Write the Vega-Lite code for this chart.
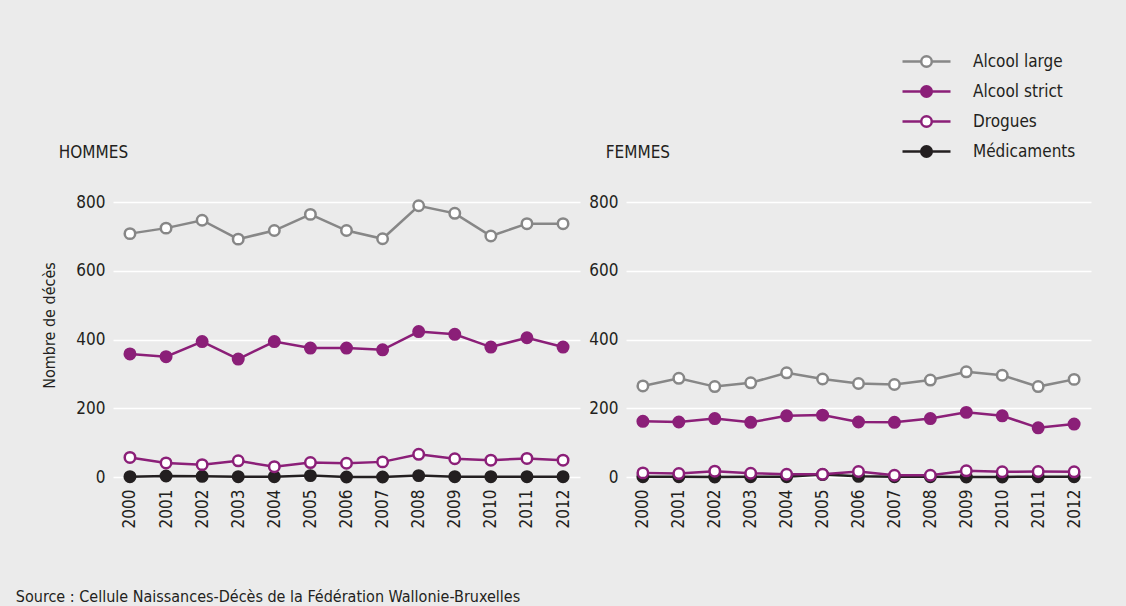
{
  "$schema": "https://vega.github.io/schema/vega-lite/v6.json",
  "background": "#EBEBEB",
  "padding": {"left": 15, "top": 48, "right": 36, "bottom": 2},
  "config": {
    "font": "DejaVu Sans Condensed, Roboto, sans-serif",
    "view": {"stroke": null},
    "axis": {"labelFont": "DejaVu Sans Condensed, Roboto, sans-serif", "labelFontSize": 17, "labelColor": "#231F20", "titleFont": "DejaVu Sans Condensed, Roboto, sans-serif", "titleColor": "#231F20"},
    "legend": {"labelFont": "DejaVu Sans Condensed, Roboto, sans-serif"}
  },
  "title": {"text": "Source : Cellule Naissances-Décès de la Fédération Wallonie-Bruxelles", "orient": "bottom", "anchor": "start", "fontSize": 16, "fontWeight": "normal", "color": "#231F20", "font": "DejaVu Sans Condensed, Roboto, sans-serif", "offset": 61, "dx": -26},
  "data": {"values": [
    {"sexe":"HOMMES","annee":"2000","serie":"Médicaments","n":1},
    {"sexe":"HOMMES","annee":"2001","serie":"Médicaments","n":3},
    {"sexe":"HOMMES","annee":"2002","serie":"Médicaments","n":2},
    {"sexe":"HOMMES","annee":"2003","serie":"Médicaments","n":1},
    {"sexe":"HOMMES","annee":"2004","serie":"Médicaments","n":1},
    {"sexe":"HOMMES","annee":"2005","serie":"Médicaments","n":4},
    {"sexe":"HOMMES","annee":"2006","serie":"Médicaments","n":0},
    {"sexe":"HOMMES","annee":"2007","serie":"Médicaments","n":0},
    {"sexe":"HOMMES","annee":"2008","serie":"Médicaments","n":4},
    {"sexe":"HOMMES","annee":"2009","serie":"Médicaments","n":1},
    {"sexe":"HOMMES","annee":"2010","serie":"Médicaments","n":1},
    {"sexe":"HOMMES","annee":"2011","serie":"Médicaments","n":1},
    {"sexe":"HOMMES","annee":"2012","serie":"Médicaments","n":1},
    {"sexe":"HOMMES","annee":"2000","serie":"Alcool large","n":708},
    {"sexe":"HOMMES","annee":"2001","serie":"Alcool large","n":724},
    {"sexe":"HOMMES","annee":"2002","serie":"Alcool large","n":747},
    {"sexe":"HOMMES","annee":"2003","serie":"Alcool large","n":692},
    {"sexe":"HOMMES","annee":"2004","serie":"Alcool large","n":717},
    {"sexe":"HOMMES","annee":"2005","serie":"Alcool large","n":764},
    {"sexe":"HOMMES","annee":"2006","serie":"Alcool large","n":717},
    {"sexe":"HOMMES","annee":"2007","serie":"Alcool large","n":693},
    {"sexe":"HOMMES","annee":"2008","serie":"Alcool large","n":789},
    {"sexe":"HOMMES","annee":"2009","serie":"Alcool large","n":767},
    {"sexe":"HOMMES","annee":"2010","serie":"Alcool large","n":701},
    {"sexe":"HOMMES","annee":"2011","serie":"Alcool large","n":737},
    {"sexe":"HOMMES","annee":"2012","serie":"Alcool large","n":737},
    {"sexe":"HOMMES","annee":"2000","serie":"Alcool strict","n":358},
    {"sexe":"HOMMES","annee":"2001","serie":"Alcool strict","n":350},
    {"sexe":"HOMMES","annee":"2002","serie":"Alcool strict","n":394},
    {"sexe":"HOMMES","annee":"2003","serie":"Alcool strict","n":343},
    {"sexe":"HOMMES","annee":"2004","serie":"Alcool strict","n":394},
    {"sexe":"HOMMES","annee":"2005","serie":"Alcool strict","n":375},
    {"sexe":"HOMMES","annee":"2006","serie":"Alcool strict","n":375},
    {"sexe":"HOMMES","annee":"2007","serie":"Alcool strict","n":370},
    {"sexe":"HOMMES","annee":"2008","serie":"Alcool strict","n":423},
    {"sexe":"HOMMES","annee":"2009","serie":"Alcool strict","n":415},
    {"sexe":"HOMMES","annee":"2010","serie":"Alcool strict","n":378},
    {"sexe":"HOMMES","annee":"2011","serie":"Alcool strict","n":405},
    {"sexe":"HOMMES","annee":"2012","serie":"Alcool strict","n":378},
    {"sexe":"HOMMES","annee":"2000","serie":"Drogues","n":57},
    {"sexe":"HOMMES","annee":"2001","serie":"Drogues","n":41},
    {"sexe":"HOMMES","annee":"2002","serie":"Drogues","n":36},
    {"sexe":"HOMMES","annee":"2003","serie":"Drogues","n":47},
    {"sexe":"HOMMES","annee":"2004","serie":"Drogues","n":30},
    {"sexe":"HOMMES","annee":"2005","serie":"Drogues","n":42},
    {"sexe":"HOMMES","annee":"2006","serie":"Drogues","n":40},
    {"sexe":"HOMMES","annee":"2007","serie":"Drogues","n":44},
    {"sexe":"HOMMES","annee":"2008","serie":"Drogues","n":66},
    {"sexe":"HOMMES","annee":"2009","serie":"Drogues","n":53},
    {"sexe":"HOMMES","annee":"2010","serie":"Drogues","n":49},
    {"sexe":"HOMMES","annee":"2011","serie":"Drogues","n":54},
    {"sexe":"HOMMES","annee":"2012","serie":"Drogues","n":49},
    {"sexe":"FEMMES","annee":"2000","serie":"Médicaments","n":1},
    {"sexe":"FEMMES","annee":"2001","serie":"Médicaments","n":1},
    {"sexe":"FEMMES","annee":"2002","serie":"Médicaments","n":0},
    {"sexe":"FEMMES","annee":"2003","serie":"Médicaments","n":1},
    {"sexe":"FEMMES","annee":"2004","serie":"Médicaments","n":1},
    {"sexe":"FEMMES","annee":"2005","serie":"Médicaments","n":7},
    {"sexe":"FEMMES","annee":"2006","serie":"Médicaments","n":2},
    {"sexe":"FEMMES","annee":"2007","serie":"Médicaments","n":1},
    {"sexe":"FEMMES","annee":"2008","serie":"Médicaments","n":1},
    {"sexe":"FEMMES","annee":"2009","serie":"Médicaments","n":0},
    {"sexe":"FEMMES","annee":"2010","serie":"Médicaments","n":0},
    {"sexe":"FEMMES","annee":"2011","serie":"Médicaments","n":1},
    {"sexe":"FEMMES","annee":"2012","serie":"Médicaments","n":1},
    {"sexe":"FEMMES","annee":"2000","serie":"Alcool large","n":265},
    {"sexe":"FEMMES","annee":"2001","serie":"Alcool large","n":287},
    {"sexe":"FEMMES","annee":"2002","serie":"Alcool large","n":263},
    {"sexe":"FEMMES","annee":"2003","serie":"Alcool large","n":274},
    {"sexe":"FEMMES","annee":"2004","serie":"Alcool large","n":303},
    {"sexe":"FEMMES","annee":"2005","serie":"Alcool large","n":285},
    {"sexe":"FEMMES","annee":"2006","serie":"Alcool large","n":272},
    {"sexe":"FEMMES","annee":"2007","serie":"Alcool large","n":269},
    {"sexe":"FEMMES","annee":"2008","serie":"Alcool large","n":282},
    {"sexe":"FEMMES","annee":"2009","serie":"Alcool large","n":306},
    {"sexe":"FEMMES","annee":"2010","serie":"Alcool large","n":296},
    {"sexe":"FEMMES","annee":"2011","serie":"Alcool large","n":263},
    {"sexe":"FEMMES","annee":"2012","serie":"Alcool large","n":284},
    {"sexe":"FEMMES","annee":"2000","serie":"Alcool strict","n":162},
    {"sexe":"FEMMES","annee":"2001","serie":"Alcool strict","n":160},
    {"sexe":"FEMMES","annee":"2002","serie":"Alcool strict","n":170},
    {"sexe":"FEMMES","annee":"2003","serie":"Alcool strict","n":159},
    {"sexe":"FEMMES","annee":"2004","serie":"Alcool strict","n":178},
    {"sexe":"FEMMES","annee":"2005","serie":"Alcool strict","n":180},
    {"sexe":"FEMMES","annee":"2006","serie":"Alcool strict","n":160},
    {"sexe":"FEMMES","annee":"2007","serie":"Alcool strict","n":159},
    {"sexe":"FEMMES","annee":"2008","serie":"Alcool strict","n":170},
    {"sexe":"FEMMES","annee":"2009","serie":"Alcool strict","n":188},
    {"sexe":"FEMMES","annee":"2010","serie":"Alcool strict","n":178},
    {"sexe":"FEMMES","annee":"2011","serie":"Alcool strict","n":143},
    {"sexe":"FEMMES","annee":"2012","serie":"Alcool strict","n":154},
    {"sexe":"FEMMES","annee":"2000","serie":"Drogues","n":12},
    {"sexe":"FEMMES","annee":"2001","serie":"Drogues","n":10},
    {"sexe":"FEMMES","annee":"2002","serie":"Drogues","n":17},
    {"sexe":"FEMMES","annee":"2003","serie":"Drogues","n":11},
    {"sexe":"FEMMES","annee":"2004","serie":"Drogues","n":8},
    {"sexe":"FEMMES","annee":"2005","serie":"Drogues","n":8},
    {"sexe":"FEMMES","annee":"2006","serie":"Drogues","n":16},
    {"sexe":"FEMMES","annee":"2007","serie":"Drogues","n":5},
    {"sexe":"FEMMES","annee":"2008","serie":"Drogues","n":5},
    {"sexe":"FEMMES","annee":"2009","serie":"Drogues","n":18},
    {"sexe":"FEMMES","annee":"2010","serie":"Drogues","n":15},
    {"sexe":"FEMMES","annee":"2011","serie":"Drogues","n":16},
    {"sexe":"FEMMES","annee":"2012","serie":"Drogues","n":15}
  ]},
  "hconcat": [
    {
      "width": 467, "height": 275,
      "title": {"text": "HOMMES", "anchor": "start", "dx": 17, "offset": 31, "fontSize": 17, "fontWeight": "normal", "color": "#231F20", "font": "DejaVu Sans Condensed, Roboto, sans-serif"},
      "transform": [{"filter": "datum.sexe === 'HOMMES'"}],
      "encoding": {
        "x": {"field": "annee", "type": "ordinal", "scale": {"type": "point", "padding": 0.47},
              "axis": {"title": null, "labelAngle": -90, "domain": false, "ticks": false, "grid": false, "labelPadding": 12}},
        "y": {"field": "n", "type": "quantitative", "scale": {"domain": [0, 800], "nice": false},
              "axis": {"title": "Nombre de décès", "titleFontSize": 16, "titleFontWeight": "normal", "titlePadding": 18, "titleY": 123, "values": [0, 200, 400, 600, 800], "domain": false, "ticks": false, "gridColor": "#FFFFFF", "gridWidth": 1.5, "labelPadding": 8}}
      },
      "layer": [
        {"mark": {"type": "line", "strokeWidth": 2.5},
         "encoding": {"stroke": {"field": "serie", "type": "nominal",
           "scale": {"domain": ["Alcool large", "Alcool strict", "Drogues", "Médicaments"], "range": ["#878787", "#8B1F78", "#8B1F78", "#231F20"]},
           "legend": {"title": null, "orient": "none", "legendX": 800, "legendY": -154, "symbolType": "M-2,0H-0.44M0.44,0H2M-0.44,0A0.44,0.44 0 1,0 0.44,0A0.44,0.44 0 1,0 -0.44,0Z", "symbolSize": 576, "symbolStrokeWidth": 2.5, "labelFontSize": 17, "labelColor": "#231F20", "labelOffset": 33, "rowPadding": 6}}}},
        {"mark": {"type": "point", "size": 110, "strokeWidth": 2.5, "opacity": 1},
         "encoding": {"stroke": {"field": "serie", "type": "nominal"},
                      "fill": {"field": "serie", "type": "nominal",
                        "scale": {"domain": ["Alcool large", "Alcool strict", "Drogues", "Médicaments"], "range": ["#FFFFFF", "#8B1F78", "#FFFFFF", "#231F20"]}}}}
      ]
    },
    {
      "width": 465, "height": 275,
      "title": {"text": "FEMMES", "anchor": "start", "dx": 17, "offset": 31, "fontSize": 17, "fontWeight": "normal", "color": "#231F20", "font": "DejaVu Sans Condensed, Roboto, sans-serif"},
      "transform": [{"filter": "datum.sexe === 'FEMMES'"}],
      "encoding": {
        "x": {"field": "annee", "type": "ordinal", "scale": {"type": "point", "padding": 0.47},
              "axis": {"title": null, "labelAngle": -90, "domain": false, "ticks": false, "grid": false, "labelPadding": 12}},
        "y": {"field": "n", "type": "quantitative", "scale": {"domain": [0, 800], "nice": false},
              "axis": {"title": null, "values": [0, 200, 400, 600, 800], "domain": false, "ticks": false, "gridColor": "#FFFFFF", "gridWidth": 1.5, "labelPadding": 8}}
      },
      "layer": [
        {"mark": {"type": "line", "strokeWidth": 2.5},
         "encoding": {"stroke": {"field": "serie", "type": "nominal"}}},
        {"mark": {"type": "point", "size": 110, "strokeWidth": 2.5, "opacity": 1},
         "encoding": {"stroke": {"field": "serie", "type": "nominal"},
                      "fill": {"field": "serie", "type": "nominal"}}}
      ]
    }
  ],
  "spacing": 8
}
